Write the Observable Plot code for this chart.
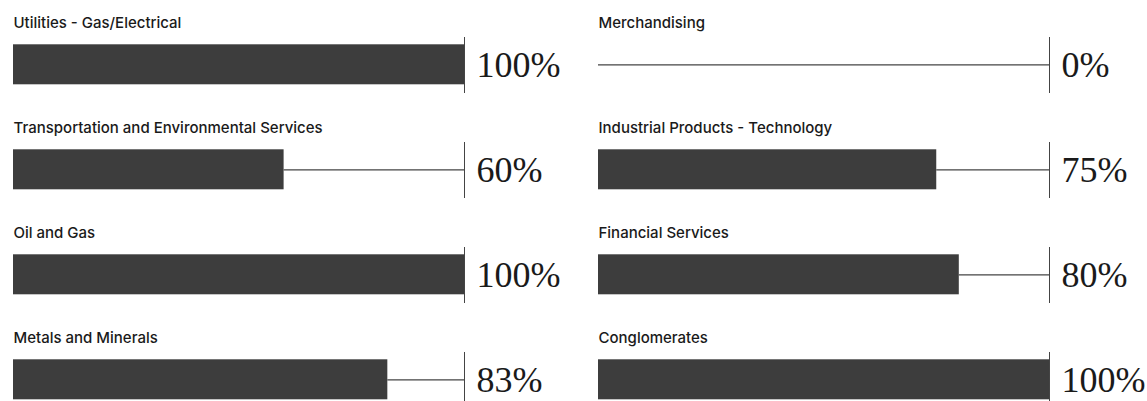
<!DOCTYPE html>
<html>
<head>
<meta charset="utf-8">
<script src="https://cdn.jsdelivr.net/npm/d3@7"></script>
<script src="https://cdn.jsdelivr.net/npm/@observablehq/plot@0.6"></script>
<style>
  html, body { margin: 0; padding: 0; background: #fff; overflow: hidden; }
  #chart svg { display: block; }
</style>
</head>
<body>
<div id="chart"></div>
<script>
// Categories, listed column by column (left column first, then right column)
const categories = [
  "Utilities - Gas/Electrical",
  "Transportation and Environmental Services",
  "Oil and Gas",
  "Metals and Minerals",
  "Merchandising",
  "Industrial Products - Technology",
  "Financial Services",
  "Conglomerates"
];
// Percentage values
const values = [100, 60, 100, 83, 0, 75, 80, 100];
const maxValue = 100;

const rowsPerColumn = 4;
const data = categories.map((name, i) => ({
  name,
  value: values[i],
  col: Math.floor(i / rowsPerColumn),
  row: i % rowsPerColumn
}));

const chart = Plot.plot({
  width: 1147,
  height: 408,
  marginTop: 36.7,
  marginBottom: 0,
  marginLeft: 12.5,
  marginRight: 98.7,
  x: {domain: [0, maxValue], axis: null},
  y: {domain: [0, 1], axis: null},
  fx: {domain: [0, 1], paddingInner: 0.2297, paddingOuter: 0, axis: null},
  fy: {domain: [0, 1, 2, 3], paddingInner: 0.4667, paddingOuter: 0, axis: null},
  style: {background: "#fff"},
  marks: [
    Plot.ruleY(data, {
      fx: "col", fy: "row",
      y: () => 0.51,
      x1: "value", x2: () => maxValue,
      stroke: "#444", strokeWidth: 1.2
    }),
    Plot.barX(data, {
      fx: "col", fy: "row",
      x1: 0, x2: "value",
      fill: "#3d3d3d",
      insetTop: 7.3, insetBottom: 8.7
    }),
    Plot.ruleX(data, {
      fx: "col", fy: "row",
      x: () => maxValue,
      stroke: "#444", strokeWidth: 1
    }),
    Plot.text(data, {
      fx: "col", fy: "row",
      x: () => maxValue,
      y: () => 0.5,
      text: d => d.value + "%",
      textAnchor: "start",
      lineAnchor: "middle",
      dx: 12,
      fontFamily: "'Liberation Serif', serif",
      fontSize: 36,
      letterSpacing: 0.8,
      fill: "#1a1a1a"
    }),
    Plot.text(data, {
      fx: "col", fy: "row",
      frameAnchor: "top-left",
      text: "name",
      textAnchor: "start",
      lineAnchor: "bottom",
      dy: -10,
      fontFamily: "Inter, sans-serif",
      fontSize: 15,
      fontWeight: 500,
      letterSpacing: 0.93,
      fill: "#1a1a1a"
    })
  ]
});
document.getElementById("chart").appendChild(chart);
</script>
</body>
</html>
